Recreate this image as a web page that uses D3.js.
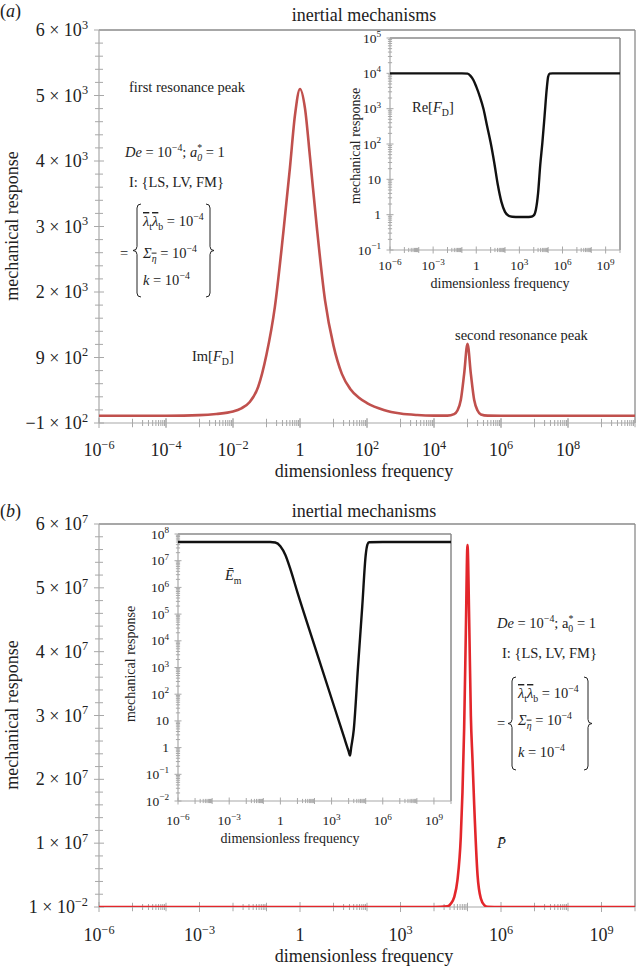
<!DOCTYPE html>
<html><head><meta charset="utf-8">
<script src="https://cdnjs.cloudflare.com/ajax/libs/d3/7.8.5/d3.min.js"></script>
<style>
body{margin:0;background:#fff}
svg{display:block}
text{font-family:"Liberation Serif","Times New Roman",Times,serif;fill:#222}
</style>
</head><body>
<svg id="c" width="637" height="968"></svg>
<script>
// ================= DATA =================
// frequencies are stored as log10(frequency)
// Panel (a) main curve: Im[F_D]
const imFD_logFreq = [-6,-5,-4,-3,-2.5,-2,-1.75,-1.5,-1.25,-1,-0.75,-0.5,-0.3,-0.15,0,0.15,0.3,0.5,0.75,1,1.25,1.5,1.75,2,2.5,3,3.5,4,4.4,4.6,4.7,4.8,4.9,5,5.1,5.2,5.3,5.4,5.6,6,7,8,9,10];
const imFD_values  = [10,10,11,20,38,75,125,220,450,950,1750,2900,3900,4700,5100,4800,4050,3000,1850,1100,650,420,290,205,100,45,22,13,12,35,90,250,650,1130,650,250,90,30,12,10,10,10,10,10];
const aYTickValues = [-100,900,2000,3000,4000,5000,6000];
const aYTickLabels = [["−1 × 10","2"],["9 × 10","2"],["2 × 10","3"],["3 × 10","3"],["4 × 10","3"],["5 × 10","3"],["6 × 10","3"]];
const aXTickExps   = [-6,-4,-2,0,2,4,6,8];

// Panel (a) inset: Re[F_D]
const reFD_logFreq = [-6,-2,-1,-0.6,-0.4,-0.2,0,0.25,0.5,0.75,1,1.25,1.5,1.75,2,2.25,2.5,3,3.5,3.8,4,4.15,4.3,4.45,4.6,4.75,4.9,5,5.1,5.3,6,8,10];
const reFD_values  = [1e4,1e4,1e4,9.8e3,8.5e3,6.5e3,4.2e3,2.2e3,1000,330,110,30,7,2.3,1.2,0.93,0.87,0.86,0.86,0.87,0.95,1.4,4,25,110,600,3.5e3,8e3,9.8e3,1e4,1e4,1e4,1e4];
const aInsetYExps  = [-1,0,1,2,3,4,5];
const insetXTickExps = [-6,-3,0,3,6,9];

// Panel (b) main curve: P-bar
const pBar_logFreq = [-6,0,3,4,4.4,4.5,4.6,4.7,4.8,4.85,4.9,4.95,5,5.05,5.1,5.15,5.2,5.3,5.4,5.5,5.6,6,8,10];
const pBar_values  = [0,0,0,0,0.01e7,0.05e7,0.15e7,0.42e7,1.1e7,1.8e7,2.8e7,4.3e7,5.67e7,4.5e7,3.0e7,2.3e7,1.6e7,0.5e7,0.13e7,0.03e7,0.005e7,0,0,0];
const bYTickValues = [0.01,1e7,2e7,3e7,4e7,5e7,6e7];
const bYTickLabels = [["1 × 10","−2"],["1 × 10","7"],["2 × 10","7"],["3 × 10","7"],["4 × 10","7"],["5 × 10","7"],["6 × 10","7"]];
const bXTickExps   = [-6,-3,0,3,6,9];

// Panel (b) inset: E-bar_m
const em_logFreq = [-6,-2,-1,-0.6,-0.3,0,0.3,0.6,1,2,3,3.5,3.8,4.0,4.08,4.15,4.3,4.55,4.8,5.0,5.1,5.2,6,8,10];
const em_values  = [5e7,5e7,5e7,5e7,4.8e7,3.5e7,1.6e7,4.5e6,6.5e5,6.6e3,69,7.1,1.8,0.72,0.5,1.0,4.6,1050,2e5,1.6e7,4e7,4.9e7,5e7,5e7,5e7];
const bInsetYExps = [-2,-1,0,1,2,3,4,5,6,7,8];

// ================= HELPERS =================
const svg = d3.select('#c');
const AX = '#a8a8a8', FR = '#8a8a8a';

function rich(g, x, y, parts, size, anchor, transform){
  const t = g.append('text').attr('font-size', size).attr('text-anchor', anchor||'start');
  if (transform) t.attr('transform', transform); else t.attr('x', x).attr('y', y);
  let cur = 0;
  parts.forEach(p => {
    const s = p[0], st = p[1] || '';
    let shift = 0, fs = size;
    if (st.includes('sup')) { shift = -0.4*size; fs = size*0.68; }
    if (st.includes('sub')) { shift = 0.25*size; fs = size*0.68; }
    const ts = t.append('tspan').text(s).attr('font-size', fs).attr('dy', shift - cur);
    if (st.includes('it')) ts.attr('font-style','italic');
    if (st.includes('bar')) ts.attr('text-decoration','overline');
    if (p[2] != null) ts.attr('dx', p[2]);
    cur = shift;
  });
  return t;
}
function expParts(e){
  if (e === 0) return [["1"]];
  if (e === 1) return [["10"]];
  return [["10"],[String(e).replace('-','−'),'sup']];
}
function line(g,x1,y1,x2,y2,c,w){
  g.append('line').attr('x1',x1).attr('y1',y1).attr('x2',x2).attr('y2',y2)
   .attr('stroke',c).attr('stroke-width',w||1);
}
function xLogAxis(g, xs, y, majors, len){
  const [r0,r1] = xs.range();
  line(g, r0, y, r1, y, AX, 1.2);
  const maxV = xs.domain()[1];
  majors.forEach(e => {
    const px = xs(Math.pow(10,e));
    line(g, px, y-len, px, y+len, AX, 1);
    for (let m=1; m<=10; m++){
      const v = m*Math.pow(10,e+1);
      if (v > maxV*1.0001) break;
      const l = (m===1||m===10) ? len*0.85 : len*0.6;
      line(g, xs(v), y-l, xs(v), y+l, AX, 1);
    }
  });
}
function yLogAxis(g, ys, x, exps, len){
  const [r0,r1] = ys.range();
  line(g, x, r0, x, r1, AX, 1.2);
  exps.forEach((e,i) => {
    const py = ys(Math.pow(10,e));
    line(g, x-len, py, x+len, py, AX, 1);
    if (i < exps.length-1){
      for (let m=2; m<=9; m++){
        const v = m*Math.pow(10,e);
        line(g, x-len*0.6, ys(v), x+len*0.6, ys(v), AX, 1);
      }
    }
  });
}
function brace(g, x, top, bot, dir){
  const mid = (top+bot)/2, r = 4*dir;
  const p = `M${x+r},${top} Q${x},${top} ${x},${top+4} L${x},${mid-4} Q${x},${mid} ${x-r},${mid} Q${x},${mid} ${x},${mid+4} L${x},${bot-4} Q${x},${bot} ${x+r},${bot}`;
  g.append('path').attr('d',p).attr('fill','none').attr('stroke','#222').attr('stroke-width',1);
}

// ================= PANEL (a) =================
(function(){
  const g = svg.append('g');
  const L=99, R=635, T=30, B=423;
  const xs = d3.scaleLog().domain([1e-6,1e10]).range([L,R]);
  const ys = d3.scaleLinear().domain(aYTickValues).range(aYTickValues.map((d,i)=>B - i*(B-T)/6));

  line(g, L, T, R, T, FR, 1.3);
  line(g, R, T, R, B, FR, 1.3);
  line(g, L, B, L, T, AX, 1.2);
  aYTickValues.forEach((v,i)=>{
    const py = ys(v);
    line(g, L-5, py, L+5, py, AX, 1);
    if (i < aYTickValues.length-1){
      const py2 = ys(aYTickValues[i+1]);
      for (let k=1;k<5;k++){ const q = py + (py2-py)*k/5; line(g, L-4, q, L+4, q, AX, 1); }
    }
    rich(g, 88, py+6, [[aYTickLabels[i][0]],[aYTickLabels[i][1],'sup']], 18, 'end');
  });
  xLogAxis(g, xs, B, aXTickExps, 5);
  aXTickExps.forEach(e => rich(g, xs(Math.pow(10,e)), 456, expParts(e), 18, 'middle'));

  g.append('clipPath').attr('id','clipA').append('rect').attr('x',L).attr('y',T).attr('width',R-L).attr('height',B-T);
  const pts = imFD_logFreq.map((e,i)=>[Math.pow(10,e), imFD_values[i]]);
  g.append('path').datum(pts).attr('clip-path','url(#clipA)')
    .attr('d', d3.line().x(d=>xs(d[0])).y(d=>ys(d[1])).curve(d3.curveMonotoneX))
    .attr('fill','none').attr('stroke','#c0504d').attr('stroke-width',2.6);

  rich(g, 0, 17, [["("],["a",'it'],[")"]], 18, 'start');
  rich(g, 364, 21, [["inertial mechanisms"]], 18, 'middle');
  rich(g, 364, 477, [["dimensionless frequency"]], 18, 'middle');
  rich(g, 0, 0, [["mechanical response"]], 18, 'middle', 'translate(18,226) rotate(-90)');

  rich(g, 129, 92, [["first resonance peak"]], 14.5);
  rich(g, 125, 157, [["De",'it'],[" = 10"],["−4",'sup'],["; "],["a",'it'],["*",'sup'],["0",'it sub',-5],[" = 1"]], 14.5);
  rich(g, 129, 187, [["I: {LS, LV, FM}"]], 14.5);
  rich(g, 120, 258, [["="]], 14.5);
  brace(g, 137, 204, 297, 1);
  brace(g, 210, 204, 297, -1);
  rich(g, 143, 226, [["λ",'it bar'],["t",'sub'],["λ",'it bar'],["b",'sub'],[" = 10"],["−4",'sup']], 14.5);
  rich(g, 143, 258, [["Σ",'it'],["η",'it sub bar'],[" = 10"],["−4",'sup']], 14.5);
  rich(g, 143, 285, [["k",'it'],[" = 10"],["−4",'sup']], 14.5);
  rich(g, 192, 361, [["Im["],["F",'it'],["D",'sub'],["]"]], 14.5);
  rich(g, 455, 340, [["second resonance peak"]], 14.5);

  // ----- inset -----
  const iL=390, iR=620, iT=38, iB=250;
  const ixs = d3.scaleLog().domain([1e-6,1e10]).range([iL,iR]);
  const iys = d3.scaleLog().domain([0.1,1e5]).range([iB,iT]);
  g.append('rect').attr('x',iL).attr('y',iT).attr('width',iR-iL).attr('height',iB-iT).attr('fill','#fff');
  line(g, iL, iT, iR, iT, FR, 1.5);
  line(g, iR, iT, iR, iB, FR, 1.5);
  yLogAxis(g, iys, iL, aInsetYExps, 3.5);
  xLogAxis(g, ixs, iB, insetXTickExps, 3.5);
  aInsetYExps.forEach(e => rich(g, 381, iys(Math.pow(10,e))+4.5, expParts(e), 13.5, 'end'));
  insetXTickExps.forEach(e => rich(g, ixs(Math.pow(10,e)), 270, expParts(e), 13.5, 'middle'));
  rich(g, 500, 288, [["dimensionless frequency"]], 14, 'middle');
  rich(g, 0, 0, [["mechanical response"]], 14, 'middle', 'translate(360,146) rotate(-90)');
  const ipts = reFD_logFreq.map((e,i)=>[Math.pow(10,e), reFD_values[i]]);
  g.append('path').datum(ipts)
    .attr('d', d3.line().x(d=>ixs(d[0])).y(d=>iys(d[1])).curve(d3.curveMonotoneX))
    .attr('fill','none').attr('stroke','#111').attr('stroke-width',2.4);
  rich(g, 412, 112, [["Re["],["F",'it'],["D",'sub'],["]"]], 14.5);
})();

// ================= PANEL (b) =================
(function(){
  const g = svg.append('g');
  const L=99, R=635, T=524, B=907;
  const xs = d3.scaleLog().domain([1e-6,1e10]).range([L,R]);
  const ys = d3.scaleLinear().domain([0,6e7]).range([B,T]);

  line(g, L, T, R, T, FR, 1.3);
  line(g, R, T, R, B, FR, 1.3);
  line(g, L, B, L, T, AX, 1.2);
  bYTickValues.forEach((v,i)=>{
    const py = ys(v);
    line(g, L-5, py, L+5, py, AX, 1);
    if (i < bYTickValues.length-1){
      const py2 = ys(bYTickValues[i+1]);
      for (let k=1;k<5;k++){ const q = py + (py2-py)*k/5; line(g, L-4, q, L+4, q, AX, 1); }
    }
    rich(g, 88, py+6, [[bYTickLabels[i][0]],[bYTickLabels[i][1],'sup']], 18, 'end');
  });
  xLogAxis(g, xs, B, bXTickExps, 5);
  bXTickExps.forEach(e => rich(g, xs(Math.pow(10,e)), 941, expParts(e), 18, 'middle'));

  g.append('clipPath').attr('id','clipB').append('rect').attr('x',L).attr('y',T).attr('width',R-L).attr('height',B-T);
  const pts = pBar_logFreq.map((e,i)=>[Math.pow(10,e), pBar_values[i]]);
  g.append('path').datum(pts).attr('clip-path','url(#clipB)')
    .attr('d', d3.line().x(d=>xs(d[0])).y(d=>ys(d[1])).curve(d3.curveMonotoneX))
    .attr('fill','none').attr('stroke','#e3262b').attr('stroke-width',2.6);

  rich(g, 0, 517, [["("],["b",'it'],[")"]], 18, 'start');
  rich(g, 364, 517, [["inertial mechanisms"]], 18, 'middle');
  rich(g, 364, 962, [["dimensionless frequency"]], 18, 'middle');
  rich(g, 0, 0, [["mechanical response"]], 18, 'middle', 'translate(18,715) rotate(-90)');

  rich(g, 497, 628, [["De",'it'],[" = 10"],["−4",'sup'],["; a"],["*",'sup'],["0",'sub',-5],[" = 1"]], 14.5);
  rich(g, 502, 658, [["I: {LS, LV, FM}"]], 14.5);
  rich(g, 497, 728, [["="]], 14.5);
  brace(g, 512, 677, 770, 1);
  brace(g, 588, 677, 770, -1);
  rich(g, 518, 698, [["λ",'it bar'],["t",'sub'],["λ",'it bar'],["b",'sub'],[" = 10"],["−4",'sup']], 14.5);
  rich(g, 518, 725, [["Σ",'it'],["η",'it sub bar'],[" = 10"],["−4",'sup']], 14.5);
  rich(g, 518, 757, [["k",'it'],[" = 10"],["−4",'sup']], 14.5);
  rich(g, 497, 848, [["P\u0304",'it']], 14.5);

  // ----- inset -----
  const iL=178, iR=451, iT=534, iB=801;
  const ixs = d3.scaleLog().domain([1e-6,1e10]).range([iL,iR]);
  const iys = d3.scaleLog().domain([1e-2,1e8]).range([iB,iT]);
  g.append('rect').attr('x',iL).attr('y',iT).attr('width',iR-iL).attr('height',iB-iT).attr('fill','#fff');
  line(g, iL, iT, iR, iT, FR, 1.5);
  line(g, iR, iT, iR, iB, FR, 1.5);
  yLogAxis(g, iys, iL, bInsetYExps, 3.5);
  xLogAxis(g, ixs, iB, insetXTickExps, 3.5);
  bInsetYExps.forEach(e => rich(g, 169, iys(Math.pow(10,e))+4.5, expParts(e), 13.5, 'end'));
  insetXTickExps.forEach(e => rich(g, ixs(Math.pow(10,e)), 825, expParts(e), 13.5, 'middle'));
  rich(g, 290, 843, [["dimensionless frequency"]], 14, 'middle');
  rich(g, 0, 0, [["mechanical response"]], 14, 'middle', 'translate(135,664) rotate(-90)');
  const ipts = em_logFreq.map((e,i)=>[Math.pow(10,e), em_values[i]]);
  g.append('path').datum(ipts)
    .attr('d', d3.line().x(d=>ixs(d[0])).y(d=>iys(d[1])).curve(d3.curveMonotoneX))
    .attr('fill','none').attr('stroke','#111').attr('stroke-width',2.4);
  rich(g, 225, 580, [["Ē",'it'],["m",'sub']], 14.5);
})();
</script>
</body></html>
